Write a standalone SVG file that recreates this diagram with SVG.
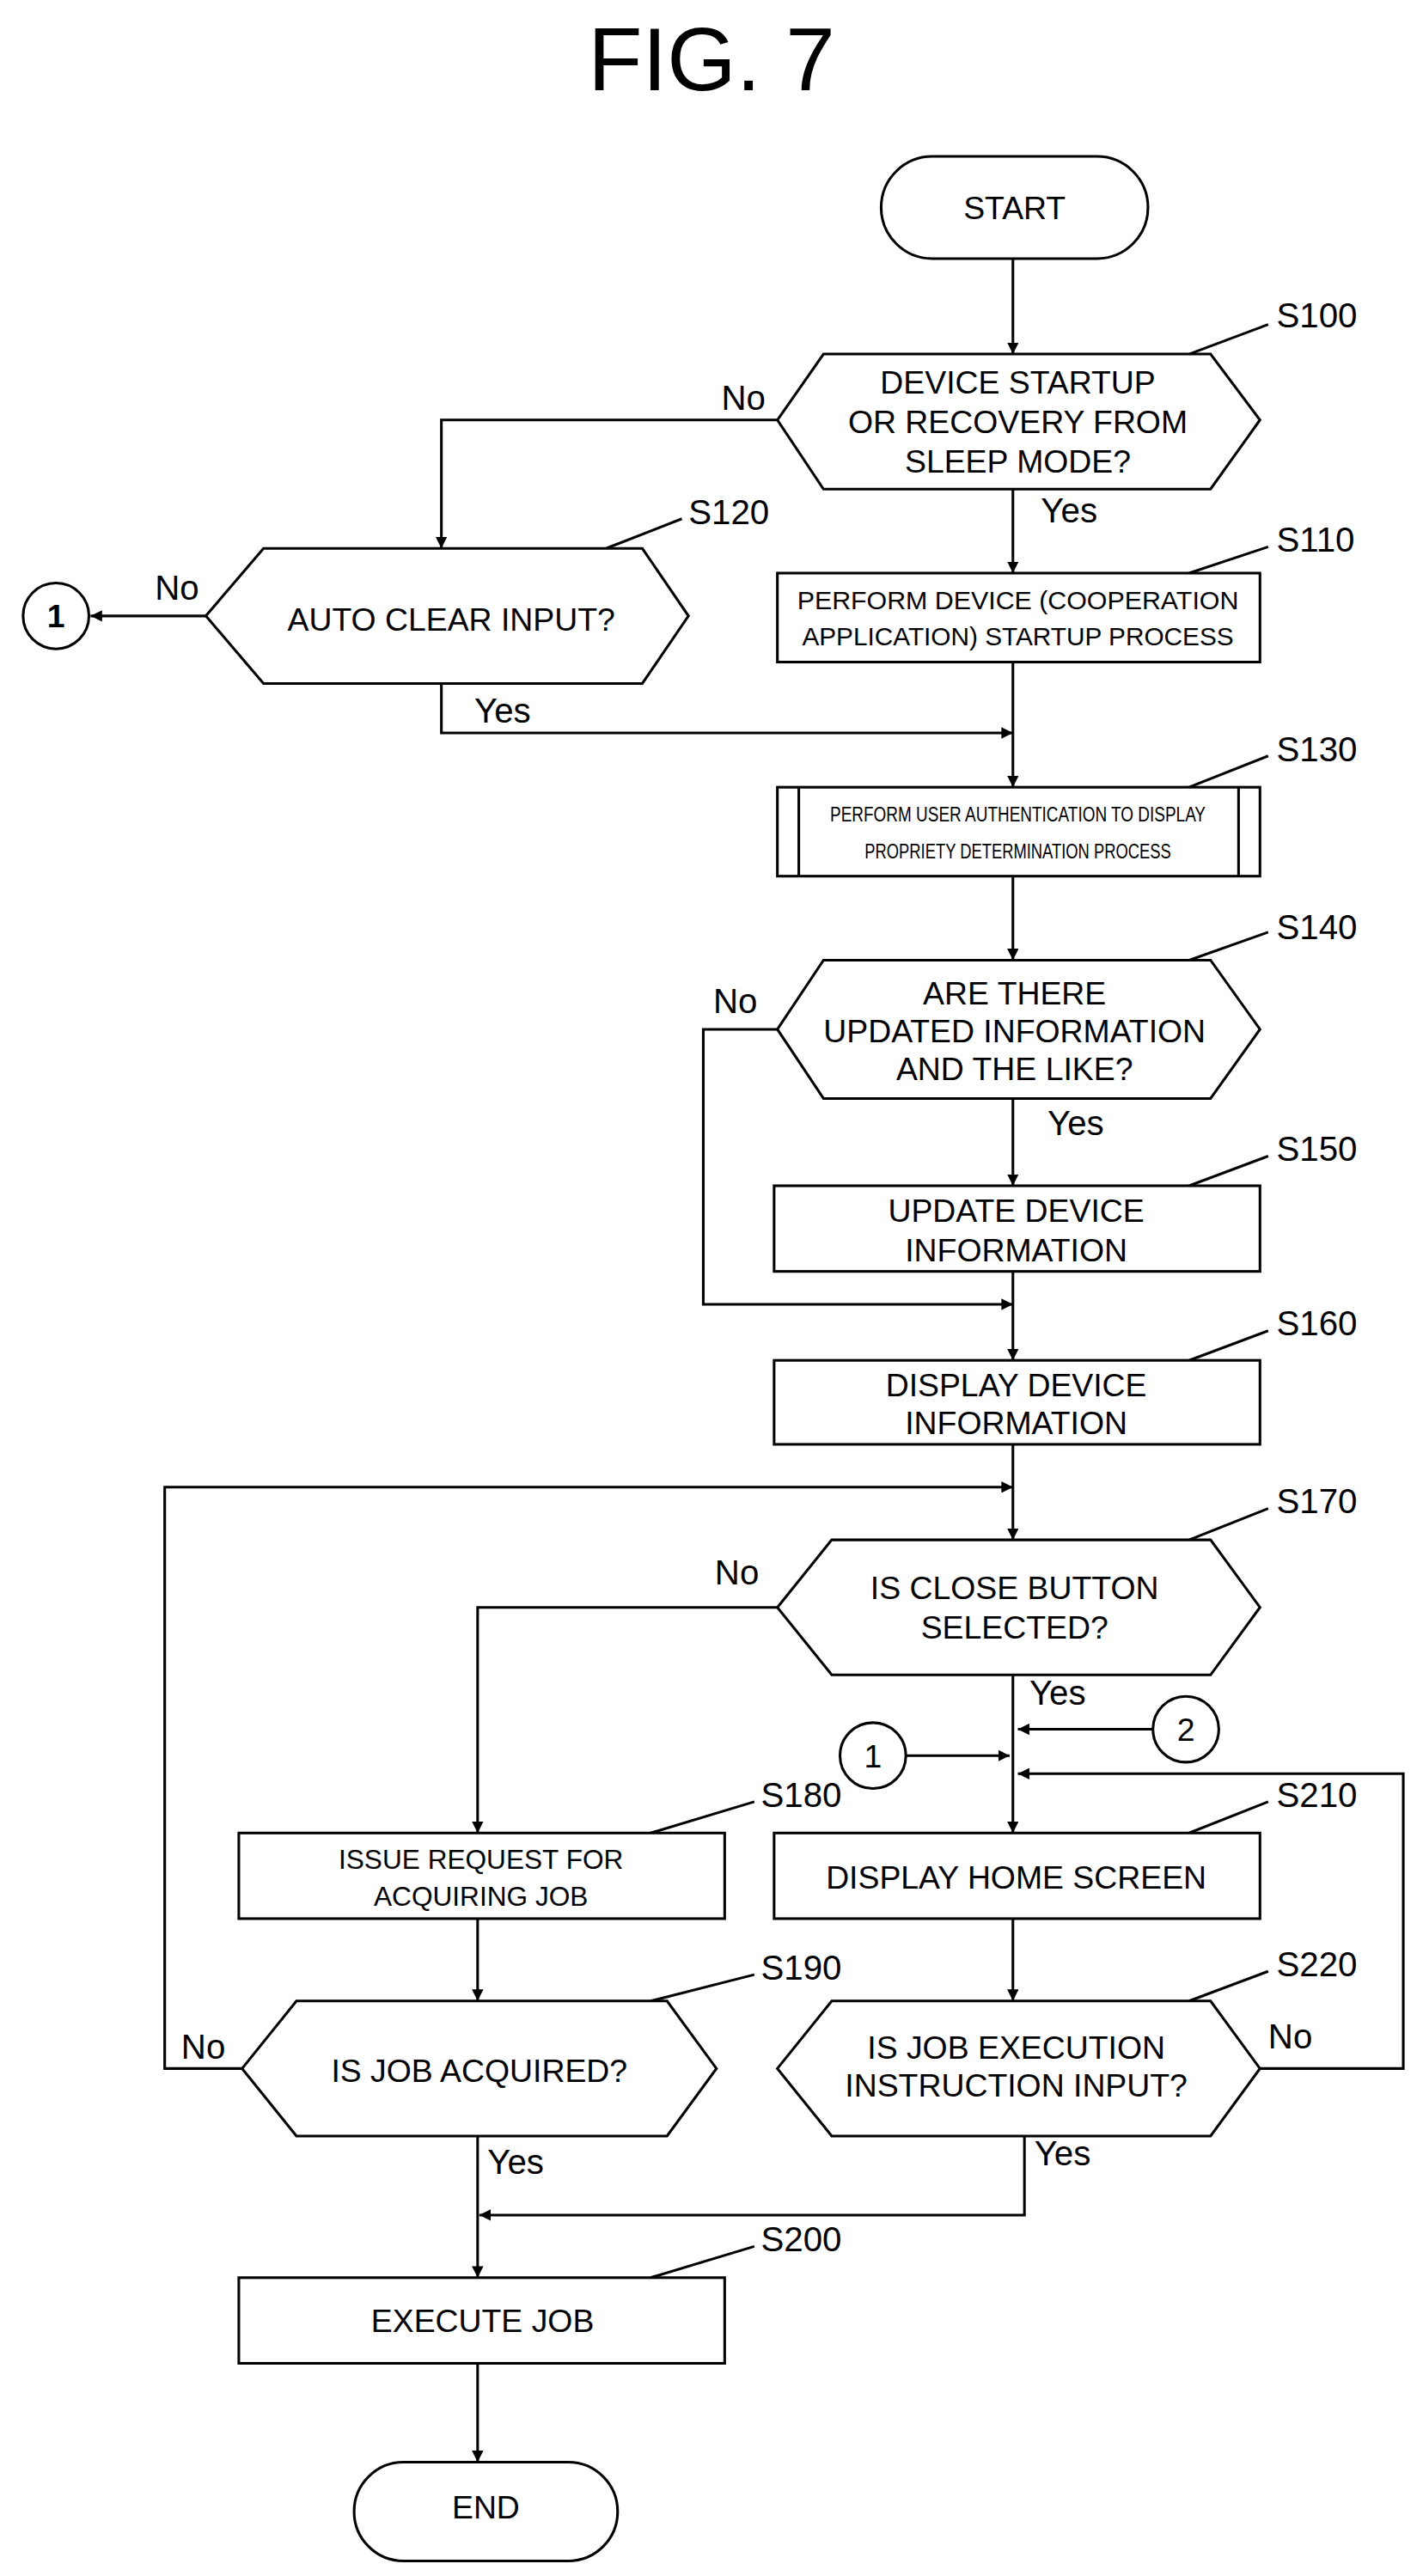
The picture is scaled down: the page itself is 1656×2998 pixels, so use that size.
<svg xmlns="http://www.w3.org/2000/svg" width="1656" height="2998" viewBox="0 0 1656 2998">
<defs>
<marker id="ah" viewBox="0 0 10 10" refX="10" refY="5" markerWidth="7" markerHeight="7" orient="auto" markerUnits="userSpaceOnUse"><path d="M0,0 L10,5 L0,10 z" fill="#000"/></marker>
<style>
.s{fill:#fff;stroke:#000;stroke-width:1.6}
.c{fill:none;stroke:#000;stroke-width:1.6}
.a{fill:none;stroke:#000;stroke-width:1.6;marker-end:url(#ah)}
text{font-family:"Liberation Sans",Arial,sans-serif;font-size:19.5px;text-anchor:middle;fill:#000}
.sm{font-size:15px}
.lb{text-anchor:start;font-size:21px}
</style>
</defs>
<rect width="1656" height="2998" fill="#fff"/>
<g transform="scale(1.9167)">
<text x="432" y="55" style="font-size:54px">FIG. 7</text>
<g id="connectors">
<path class="a" d="M615,157 V215"/>
<path class="a" d="M472,255 H268 V333"/>
<path class="a" d="M615,297 V348"/>
<path class="a" d="M125,374 H55"/>
<path class="a" d="M268,415 V445 H615"/>
<path class="a" d="M615,402 V478"/>
<path class="a" d="M615,532 V583"/>
<path class="a" d="M472,625 H427 V792 H615"/>
<path class="a" d="M615,667 V720"/>
<path class="a" d="M615,772 V826"/>
<path class="a" d="M615,877 V935"/>
<path class="a" d="M147,1256 H100 V903 H615"/>
<path class="a" d="M472,976 H290 V1113"/>
<path class="a" d="M615,1017 V1113"/>
<path class="a" d="M700,1050 H618"/>
<path class="a" d="M550,1066 H613"/>
<path class="a" d="M765,1256 H852 V1077 H618"/>
<path class="a" d="M290,1165 V1215"/>
<path class="a" d="M615,1165 V1215"/>
<path class="a" d="M290,1297 V1383"/>
<path class="a" d="M622,1297 V1345 H291"/>
<path class="a" d="M290,1435 V1495"/>
<path class="c" d="M722,215 L770,197 M722,348 L770,332 M368,333 L414,315 M722,478 L770,459 M722,583 L770,566 M722,720 L770,702 M722,826 L770,808 M722,935 L770,916 M395,1113 L458,1094 M722,1113 L770,1094 M395,1215 L458,1199 M722,1215 L770,1197 M395,1383 L458,1364"/>
<text class="lb" x="438" y="249">No</text>
<text class="lb" x="632" y="317">Yes</text>
<text class="lb" x="94" y="364">No</text>
<text class="lb" x="288" y="439">Yes</text>
<text class="lb" x="433" y="615">No</text>
<text class="lb" x="636" y="689">Yes</text>
<text class="lb" x="434" y="962">No</text>
<text class="lb" x="625" y="1035">Yes</text>
<text class="lb" x="770" y="1244">No</text>
<text class="lb" x="110" y="1250">No</text>
<text class="lb" x="296" y="1320">Yes</text>
<text class="lb" x="628" y="1315">Yes</text>
</g>
<g id="start"><rect class="s" x="535" y="95" width="162" height="62" rx="31"/><text x="616" y="133">START</text></g>
<g id="s100"><path class="s" d="M472,255 L500,215 H735 L765,255 L735,297 H500 Z"/><text x="618" y="239">DEVICE STARTUP</text><text x="618" y="263">OR RECOVERY FROM</text><text x="618" y="287">SLEEP MODE?</text><text class="lb" x="775" y="199">S100</text></g>
<g id="s110"><rect class="s" x="472" y="348" width="293" height="54"/><text class="sm" x="618" y="370" textLength="268" lengthAdjust="spacingAndGlyphs">PERFORM DEVICE (COOPERATION</text><text class="sm" x="618" y="392" textLength="262" lengthAdjust="spacingAndGlyphs">APPLICATION) STARTUP PROCESS</text><text class="lb" x="775" y="335">S110</text></g>
<g id="s120"><path class="s" d="M125,374 L160,333 H390 L418,374 L390,415 H160 Z"/><text x="274" y="383">AUTO CLEAR INPUT?</text><text class="lb" x="418" y="318">S120</text></g>
<g id="c1a"><circle class="s" cx="34" cy="374" r="20"/><text x="34" y="381" style="font-weight:bold">1</text></g>
<g id="s130"><rect class="s" x="472" y="478" width="293" height="54"/><path class="c" d="M485,478 V532 M752,478 V532"/><text class="sm" x="618" y="499" style="font-size:12.5px" textLength="228" lengthAdjust="spacingAndGlyphs">PERFORM USER AUTHENTICATION TO DISPLAY</text><text class="sm" x="618" y="521" style="font-size:12.5px" textLength="186" lengthAdjust="spacingAndGlyphs">PROPRIETY DETERMINATION PROCESS</text><text class="lb" x="775" y="462">S130</text></g>
<g id="s140"><path class="s" d="M472,625 L500,583 H735 L765,625 L735,667 H500 Z"/><text x="616" y="610">ARE THERE</text><text x="616" y="633">UPDATED INFORMATION</text><text x="616" y="656">AND THE LIKE?</text><text class="lb" x="775" y="570">S140</text></g>
<g id="s150"><rect class="s" x="470" y="720" width="295" height="52"/><text x="617" y="742">UPDATE DEVICE</text><text x="617" y="766">INFORMATION</text><text class="lb" x="775" y="705">S150</text></g>
<g id="s160"><rect class="s" x="470" y="826" width="295" height="51"/><text x="617" y="848">DISPLAY DEVICE</text><text x="617" y="871">INFORMATION</text><text class="lb" x="775" y="811">S160</text></g>
<g id="s170"><path class="s" d="M472,976 L505,935 H735 L765,976 L735,1017 H505 Z"/><text x="616" y="971">IS CLOSE BUTTON</text><text x="616" y="995">SELECTED?</text><text class="lb" x="775" y="919">S170</text></g>
<g id="c2"><circle class="s" cx="720" cy="1050" r="20"/><text x="720" y="1057">2</text></g>
<g id="c1b"><circle class="s" cx="530" cy="1066" r="20"/><text x="530" y="1073">1</text></g>
<g id="s180"><rect class="s" x="145" y="1113" width="295" height="52"/><text class="sm" x="292" y="1135" style="font-size:16.5px">ISSUE REQUEST FOR</text><text class="sm" x="292" y="1157" style="font-size:16.5px">ACQUIRING JOB</text><text class="lb" x="462" y="1097">S180</text></g>
<g id="s210"><rect class="s" x="470" y="1113" width="295" height="52"/><text x="617" y="1147">DISPLAY HOME SCREEN</text><text class="lb" x="775" y="1097">S210</text></g>
<g id="s190"><path class="s" d="M147,1256 L180,1215 H405 L435,1256 L405,1297 H180 Z"/><text x="291" y="1264">IS JOB ACQUIRED?</text><text class="lb" x="462" y="1202">S190</text></g>
<g id="s220"><path class="s" d="M472,1256 L505,1215 H735 L765,1256 L735,1297 H505 Z"/><text x="617" y="1250">IS JOB EXECUTION</text><text x="617" y="1273">INSTRUCTION INPUT?</text><text class="lb" x="775" y="1200">S220</text></g>
<g id="s200"><rect class="s" x="145" y="1383" width="295" height="52"/><text x="293" y="1416">EXECUTE JOB</text><text class="lb" x="462" y="1367">S200</text></g>
<g id="end"><rect class="s" x="215" y="1495" width="160" height="60" rx="30"/><text x="295" y="1529">END</text></g>
</g>
</svg>
